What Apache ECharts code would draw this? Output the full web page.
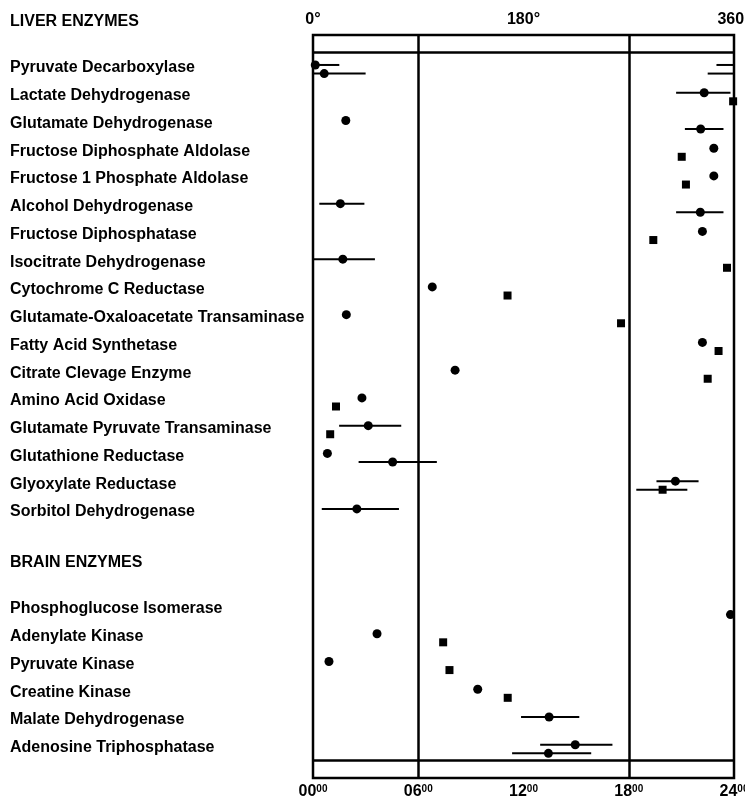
<!DOCTYPE html>
<html>
<head>
<meta charset="utf-8">
<script src="https://cdn.jsdelivr.net/npm/echarts@6/dist/echarts.min.js"></script>
<style>
  html, body { margin: 0; padding: 0; background: #fff; }
  #chart { width: 745px; height: 807px; }
</style>
</head>
<body>
<div id="chart"></div>
<script>
// Enzyme names, liver group first, then brain group
const liverEnzymes = [
  'Pyruvate Decarboxylase', 'Lactate Dehydrogenase', 'Glutamate Dehydrogenase',
  'Fructose Diphosphate Aldolase', 'Fructose 1 Phosphate Aldolase', 'Alcohol Dehydrogenase',
  'Fructose Diphosphatase', 'Isocitrate Dehydrogenase', 'Cytochrome C Reductase',
  'Glutamate-Oxaloacetate Transaminase', 'Fatty Acid Synthetase', 'Citrate Clevage Enzyme',
  'Amino Acid Oxidase', 'Glutamate Pyruvate Transaminase', 'Glutathione Reductase',
  'Glyoxylate Reductase', 'Sorbitol Dehydrogenase'
];
const brainEnzymes = [
  'Phosphoglucose Isomerase', 'Adenylate Kinase', 'Pyruvate Kinase',
  'Creatine Kinase', 'Malate Dehydrogenase', 'Adenosine Triphosphatase'
];
const groupTitles = ['LIVER ENZYMES', 'BRAIN ENZYMES'];

// Peak times (hours after 00:00); first measurement of each enzyme
const upperTime = [0.13, 22.3, 1.87, 22.85, 22.85, 1.56, 22.2, 1.70, 6.8, 1.9, 22.2, 8.1, 2.79, 3.15, 0.82, 20.66, 2.5,
                   null, 3.65, 0.91, 9.39, 13.46, 14.95];
const upperLow  = [-1.0, 20.7, null, null, null, 0.36, null, 0.03, null, null, null, null, null, 1.49, null, 19.58, 0.5,
                   null, null, null, null, 11.86, 12.95];
const upperHigh = [1.5, 23.8, null, null, null, 2.93, null, 3.53, null, null, null, null, null, 5.03, null, 21.98, 4.9,
                   null, null, null, null, 15.18, 17.07];

// Second measurement of each enzyme
const lowerTime = [0.64, 23.95, 22.1, 21.02, 21.26, 22.08, 19.4, 23.6, 11.09, 17.56, 23.12, 22.5, 1.31, 0.98, 4.54, 19.93, null,
                   23.8, 7.42, 7.78, 11.1, null, 13.42];
const lowerLow  = [-1.5, null, 21.2, null, null, 20.7, null, null, null, null, null, null, null, null, 2.6, 18.43, null,
                   null, null, null, null, null, 11.35];
const lowerHigh = [3.0, null, 23.4, null, null, 23.4, null, null, null, null, null, null, null, null, 7.06, 21.34, null,
                   null, null, null, null, null, 15.86];
const lowerShape = ['circle', 'square', 'circle', 'square', 'square', 'circle', 'square', 'square', 'square', 'square',
                    'square', 'square', 'square', 'square', 'circle', 'square', null,
                    'circle', 'square', 'square', 'square', null, 'circle'];

// Axis tick labels
const hourTicks = ['00', '06', '12', '18', '24'];
const degreeTicks = ['0°', '180°', '360°'];

// ---- layout helpers ----
const enzymes = liverEnzymes.concat(brainEnzymes);
const BRAIN_GAP = 2.5;             // extra rows between the two groups
const ROW_UP = -0.11, ROW_DOWN = 0.2;
function rowOf(i) { return i < liverEnzymes.length ? i : i + BRAIN_GAP; }
const rows = enzymes.map((_, i) => rowOf(i));
const nameByRow = {};
rows.forEach((r, i) => { nameByRow[r.toFixed(2)] = enzymes[i]; });

const circles = [], squares = [], bars = [];
enzymes.forEach((_, i) => {
  const r = rowOf(i);
  if (upperTime[i] != null) {
    circles.push([upperTime[i], r + ROW_UP]);
    if (upperLow[i] != null) bars.push([upperTime[i], upperLow[i], upperHigh[i], r + ROW_UP]);
  }
  if (lowerTime[i] != null) {
    (lowerShape[i] === 'square' ? squares : circles).push([lowerTime[i], r + ROW_DOWN]);
    if (lowerLow[i] != null) bars.push([lowerTime[i], lowerLow[i], lowerHigh[i], r + ROW_DOWN]);
  }
});

const FONT = '"Liberation Sans", Arial, sans-serif';
const chart = echarts.init(document.getElementById('chart'), null, { renderer: 'canvas' });

// Horizontal range line; ranges crossing midnight wrap to the other edge
function errorBar(params, api) {
  const lo = api.value(1), hi = api.value(2), y = api.value(3);
  const segs = [[Math.max(lo, 0), Math.min(hi, 24)]];
  if (lo < 0) segs.push([24 + lo, 24]);
  if (hi > 24) segs.push([0, hi - 24]);
  return {
    type: 'group',
    children: segs.map(s => {
      const a = api.coord([s[0], y]), b = api.coord([s[1], y]);
      return { type: 'line', shape: { x1: a[0], y1: a[1], x2: b[0], y2: b[1] },
               style: { stroke: '#000', lineWidth: 2 } };
    })
  };
}

const headStyle = { fontFamily: FONT, fontSize: 16, fontWeight: 'bold', color: '#000' };

chart.setOption({
  backgroundColor: '#fff',
  animation: false,
  title: [
    { text: groupTitles[0], left: 10, top: 14, padding: 0, textStyle: headStyle },
    { text: groupTitles[1], left: 10, top: 555, padding: 0, textStyle: headStyle }
  ],
  grid: { left: 313, right: 11, top: 35, bottom: 29, show: true, borderColor: '#000', borderWidth: 2.5,
          backgroundColor: 'transparent', outerBoundsMode: 'none' },
  xAxis: [
    { type: 'value', position: 'bottom', min: 0, max: 24, interval: 6,
      axisLine: { show: false }, axisTick: { show: false }, splitLine: { show: false },
      axisLabel: { margin: 6, showMaxLabel: true,
        formatter: v => '{a|' + hourTicks[v / 6] + '}{b|00}',
        rich: { a: { fontFamily: FONT, fontSize: 16, fontWeight: 'bold', color: '#000' },
                b: { fontFamily: FONT, fontSize: 10, fontWeight: 'bold', color: '#000', verticalAlign: 'top', padding: [0, 0, 6, 0] } } } },
    { type: 'value', position: 'top', min: 0, max: 24, interval: 12,
      axisLine: { show: false }, axisTick: { show: false }, splitLine: { show: false },
      axisLabel: { margin: 7, fontFamily: FONT, fontSize: 16, fontWeight: 'bold', color: '#000',
        formatter: v => degreeTicks[v / 12] } }
  ],
  yAxis: {
    type: 'value', inverse: true, min: -1.19, max: 25.59,
    axisLine: { show: false }, axisTick: { show: false }, splitLine: { show: false },
    axisLabel: { customValues: rows, margin: 303, align: 'left',
      fontFamily: FONT, fontSize: 16, fontWeight: 'bold', color: '#000',
      formatter: v => nameByRow[Number(v).toFixed(2)] || '' }
  },
  series: [
    { type: 'custom', name: 'range', renderItem: errorBar, data: bars, clip: true, z: 3,
      encode: { x: [0, 1, 2], y: 3 },
      markLine: { silent: true, symbol: 'none', label: { show: false },
        lineStyle: { color: '#000', width: 2.5, type: 'solid' },
        data: [ { xAxis: 6 }, { xAxis: 18 }, { yAxis: -0.58 }, { yAxis: 24.94 } ] } },
    { type: 'scatter', name: 'circle', symbol: 'circle', symbolSize: 9, data: circles, z: 4,
      itemStyle: { color: '#000', opacity: 1 } },
    { type: 'scatter', name: 'square', symbol: 'rect', symbolSize: 8, data: squares, z: 4,
      itemStyle: { color: '#000', opacity: 1 } }
  ]
});
</script>
</body>
</html>
